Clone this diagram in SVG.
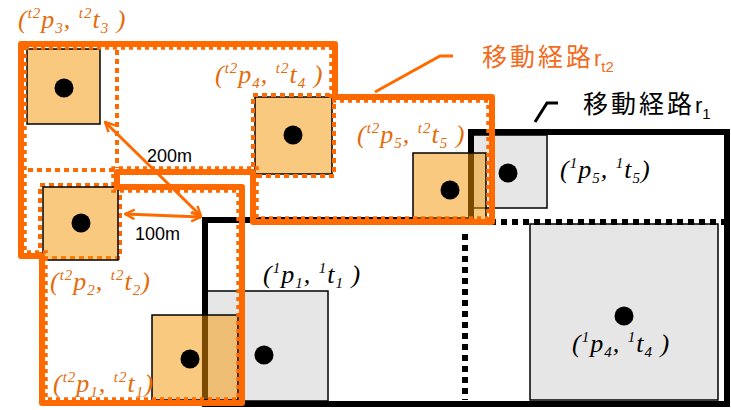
<svg xmlns="http://www.w3.org/2000/svg" width="731" height="410" viewBox="0 0 731 410">
  <style>
    .route-o { fill: none; stroke: #FF6A00; stroke-width: 6; stroke-linejoin: round; }
    .route-o-dash { fill: none; stroke: #FF6A00; stroke-width: 4; stroke-dasharray: 5 4; }
    .route-o-edge { fill: none; stroke: #FF6A00; stroke-width: 3.5; stroke-dasharray: 4 4; }
    .route-k { fill: none; stroke: #000; stroke-width: 6; }
    .route-k-dot { fill: none; stroke: #000; stroke-width: 6; stroke-dasharray: 6 5; }
    .cell-g { fill: #E6E6E6; stroke: #000; stroke-width: 1.5; }
    .cell-o { fill: #F49400; fill-opacity: 0.5; stroke: #000; stroke-width: 1.5; }
    .pt { fill: #000; }
    .lbl { font-family: "Liberation Serif", serif; font-style: italic; font-size: 26px; letter-spacing: 1px; }
    .lbl-o { fill: #E46C0A; }
    .lbl-k { fill: #000; }
    .sm { font-size: 15px; }
    .dist { font-family: "Liberation Sans", sans-serif; font-size: 18px; fill: #000; }
    .title { font-family: "Noto Sans CJK JP", sans-serif; font-size: 25px; letter-spacing: 3px; }
    .title-r { font-family: "Liberation Sans", sans-serif; font-size: 22px; letter-spacing: 0; }
    .title-sub { font-family: "Liberation Sans", sans-serif; font-size: 15px; letter-spacing: 0; }
    .arrow { fill: none; stroke: #FF6A00; stroke-width: 3; }
    .callout-o { fill: none; stroke: #FF6A00; stroke-width: 3; }
    .callout-k { fill: none; stroke: #000; stroke-width: 3; }
  </style>
  <defs>
    <marker id="head" viewBox="0 0 10 10" refX="9" refY="5" markerWidth="4" markerHeight="4" orient="auto-start-reverse" markerUnits="strokeWidth">
      <path d="M1,1 L9,5 L1,9" fill="none" stroke="#FF6A00" stroke-width="2"/>
    </marker>
  </defs>

  <!-- route r1 cells (grey) -->
  <g id="r1-p1"><rect class="cell-g" x="207" y="291" width="121" height="110"/></g>
  <g id="r1-p4"><rect class="cell-g" x="530" y="224" width="188" height="176"/></g>
  <g id="r1-p5"><rect class="cell-g" x="472" y="135" width="75" height="73"/></g>

  <!-- connectors: route outlines, arrows, callouts -->
  <g id="connectors">
    <!-- route r1 -->
    <path class="route-k" d="M205,220 H471 V132 H727 V404 H205 Z"/>
    <path class="route-k-dot" d="M490,222 H727"/>
    <path class="route-k-dot" d="M465,234 V400"/>
  </g>

  <!-- route r_t2 cells (orange, translucent) -->
  <g id="rt2-p3"><rect class="cell-o" x="27" y="49" width="73" height="75"/></g>
  <g id="rt2-p2">
    <rect x="40" y="185" width="80" height="73" fill="none" stroke="#FF6A00" stroke-width="4" stroke-dasharray="5 4"/>
    <rect class="cell-o" x="43" y="187" width="75" height="73"/>
  </g>
  <g id="rt2-p4">
    <rect class="cell-o" x="255" y="97" width="77" height="77"/>
    <rect x="253" y="95" width="81" height="81" fill="none" stroke="#FF6A00" stroke-width="4" stroke-dasharray="5 4"/>
  </g>
  <g id="rt2-p5"><rect class="cell-o" x="413" y="153" width="73" height="68"/></g>
  <g id="rt2-p1"><rect class="cell-o" x="152" y="315" width="86" height="85"/></g>

  <g id="route-rt2">
    <!-- inner cell borders -->
    <path class="route-o-dash" d="M117,50 V168 M28,170 H117"/>
    <path class="route-o-edge" d="M25,48 H331 V101 H488 V218 H257 V168 H113 V191 H238 V399 H46 V252 H25 Z"/>
    <!-- outline -->
    <path class="route-o" d="M21,44 H335 V97 H492 V222 H253 V172 H117 V187 H242 V403 H42 V256 H21 Z"/>
  </g>

  <!-- location points -->
  <g id="points">
    <circle class="pt" cx="64" cy="88" r="9.5"/>
    <circle class="pt" cx="81" cy="223" r="9.5"/>
    <circle class="pt" cx="293" cy="135" r="9.5"/>
    <circle class="pt" cx="450" cy="190" r="9.5"/>
    <circle class="pt" cx="508" cy="173" r="9.5"/>
    <circle class="pt" cx="190" cy="359" r="9.5"/>
    <circle class="pt" cx="264" cy="355" r="9.5"/>
    <circle class="pt" cx="624" cy="316" r="9.5"/>
  </g>

  <!-- distance arrows -->
  <g id="distances">
    <path class="arrow" d="M105,122 L201,216" marker-start="url(#head)" marker-end="url(#head)"/>
    <path class="arrow" d="M125,214 L201,217" marker-start="url(#head)" marker-end="url(#head)"/>
    <text class="dist" x="147" y="162">200m</text>
    <text class="dist" x="135" y="240">100m</text>
  </g>

  <!-- route callouts -->
  <g id="callout-rt2">
    <path class="callout-o" d="M375,92 L440,56 H453"/>
    <text class="title" x="482" y="66" fill="#F26B1D">移動経路<tspan class="title-r">r</tspan><tspan class="title-sub" dy="6">t2</tspan></text>
  </g>
  <g id="callout-r1">
    <path class="callout-k" d="M535,122 L547,103 H558"/>
    <text class="title" x="583" y="113" fill="#000">移動経路<tspan class="title-r">r</tspan><tspan class="title-sub" dy="6">1</tspan></text>
  </g>

  <!-- point labels, route r_t2 -->
  <g id="labels-rt2">
    <text class="lbl lbl-o" x="18" y="28">(<tspan class="sm" dy="-10">t2</tspan><tspan dy="10">p</tspan><tspan class="sm" dy="5">3</tspan><tspan dy="-5">, </tspan><tspan class="sm" dy="-10">t2</tspan><tspan dy="10">t</tspan><tspan class="sm" dy="5">3</tspan><tspan dy="-5"> )</tspan></text>
    <text class="lbl lbl-o" x="215" y="83">(<tspan class="sm" dy="-10">t2</tspan><tspan dy="10">p</tspan><tspan class="sm" dy="5">4</tspan><tspan dy="-5">, </tspan><tspan class="sm" dy="-10">t2</tspan><tspan dy="10">t</tspan><tspan class="sm" dy="5">4</tspan><tspan dy="-5"> )</tspan></text>
    <text class="lbl lbl-o" x="357" y="143">(<tspan class="sm" dy="-10">t2</tspan><tspan dy="10">p</tspan><tspan class="sm" dy="5">5</tspan><tspan dy="-5">, </tspan><tspan class="sm" dy="-10">t2</tspan><tspan dy="10">t</tspan><tspan class="sm" dy="5">5</tspan><tspan dy="-5"> )</tspan></text>
    <text class="lbl lbl-o" x="50" y="290">(<tspan class="sm" dy="-10">t2</tspan><tspan dy="10">p</tspan><tspan class="sm" dy="5">2</tspan><tspan dy="-5">, </tspan><tspan class="sm" dy="-10">t2</tspan><tspan dy="10">t</tspan><tspan class="sm" dy="5">2</tspan><tspan dy="-5">)</tspan></text>
    <text class="lbl lbl-o" x="53" y="392">(<tspan class="sm" dy="-10">t2</tspan><tspan dy="10">p</tspan><tspan class="sm" dy="5">1</tspan><tspan dy="-5">, </tspan><tspan class="sm" dy="-10">t2</tspan><tspan dy="10">t</tspan><tspan class="sm" dy="5">1</tspan><tspan dy="-5">)</tspan></text>
  </g>

  <!-- point labels, route r1 -->
  <g id="labels-r1">
    <text class="lbl lbl-k" x="263" y="283">(<tspan class="sm" dy="-10">1</tspan><tspan dy="10">p</tspan><tspan class="sm" dy="5">1</tspan><tspan dy="-5">, </tspan><tspan class="sm" dy="-10">1</tspan><tspan dy="10">t</tspan><tspan class="sm" dy="5">1</tspan><tspan dy="-5"> )</tspan></text>
    <text class="lbl lbl-k" x="572" y="352">(<tspan class="sm" dy="-10">1</tspan><tspan dy="10">p</tspan><tspan class="sm" dy="5">4</tspan><tspan dy="-5">, </tspan><tspan class="sm" dy="-10">1</tspan><tspan dy="10">t</tspan><tspan class="sm" dy="5">4</tspan><tspan dy="-5"> )</tspan></text>
    <text class="lbl lbl-k" x="560" y="178">(<tspan class="sm" dy="-10">1</tspan><tspan dy="10">p</tspan><tspan class="sm" dy="5">5</tspan><tspan dy="-5">, </tspan><tspan class="sm" dy="-10">1</tspan><tspan dy="10">t</tspan><tspan class="sm" dy="5">5</tspan><tspan dy="-5">)</tspan></text>
  </g>
</svg>
